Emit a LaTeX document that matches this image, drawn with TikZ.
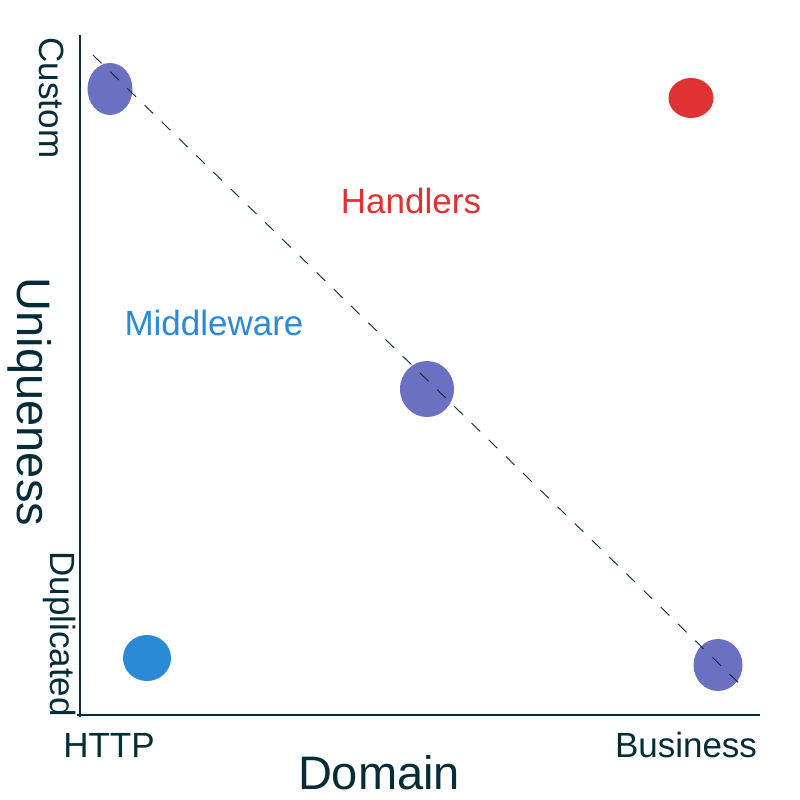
\documentclass[tikz,border=0pt]{standalone}
\usepackage{fontspec}
\setmainfont{Liberation Sans}
\usetikzlibrary{shapes.geometric}
\definecolor{ink}{HTML}{062C38}
\definecolor{dotpurple}{HTML}{6C70C0}
\definecolor{dotred}{HTML}{E03232}
\definecolor{dotblue}{HTML}{2A8AD6}
\tikzset{
  dot/.style={ellipse, inner sep=0pt, draw=none},
  lbl/.style={inner sep=0pt, font=\fontsize{35}{40}\selectfont, text=ink},
  biglbl/.style={inner sep=0pt, font=\fontsize{47}{52}\selectfont, text=ink},
  axisline/.style={draw=ink, line width=1.3pt},
  trend/.style={draw=ink, line width=0.9pt, dash pattern=on 12pt off 12pt}
}
\begin{document}
\begin{tikzpicture}[x=1pt,y=-1pt]
\useasboundingbox[fill=white] (0,0) rectangle (800,800);
% axes
\coordinate (ytop) at (80,35);
\coordinate (ybot) at (80,717);
\coordinate (xl) at (77,715);
\coordinate (xr) at (760,715);
\draw[axisline] (ytop) -- (ybot);
\draw[axisline] (xl) -- (xr);
% dots
\node[dot, fill=dotpurple, minimum width=45pt, minimum height=52pt] (p1) at (110,89) {};
\node[dot, fill=dotpurple, minimum width=54pt, minimum height=56pt] (p2) at (427,389) {};
\node[dot, fill=dotpurple, minimum width=49pt, minimum height=52pt] (p3) at (718,665) {};
\node[dot, fill=dotred, minimum width=45pt, minimum height=40pt] (r1) at (691,98) {};
\node[dot, fill=dotblue, minimum width=48pt, minimum height=46pt] (b1) at (147,658) {};
% trend line
\coordinate (ts) at (93,55);
\coordinate (te) at (746,690);
\draw[trend] (ts) -- (te);
% labels
\node[lbl, text=dotred] (handlers) at (411,201) {Handlers};
\node[lbl, text=dotblue] (middleware) at (214,323) {Middleware};
\node[lbl] (http) at (109,745) {HTTP};
\node[lbl] (business) at (686,745) {Business};
\node[biglbl] (domain) at (379,773) {Domain};
\node[lbl, rotate=-90] (custom) at (52,98) {Custom};
\node[lbl, rotate=-90] (dup) at (60,634) {Duplicated};
\node[biglbl, rotate=-90] (uniq) at (30,402) {Uniqueness};
\end{tikzpicture}
\end{document}
